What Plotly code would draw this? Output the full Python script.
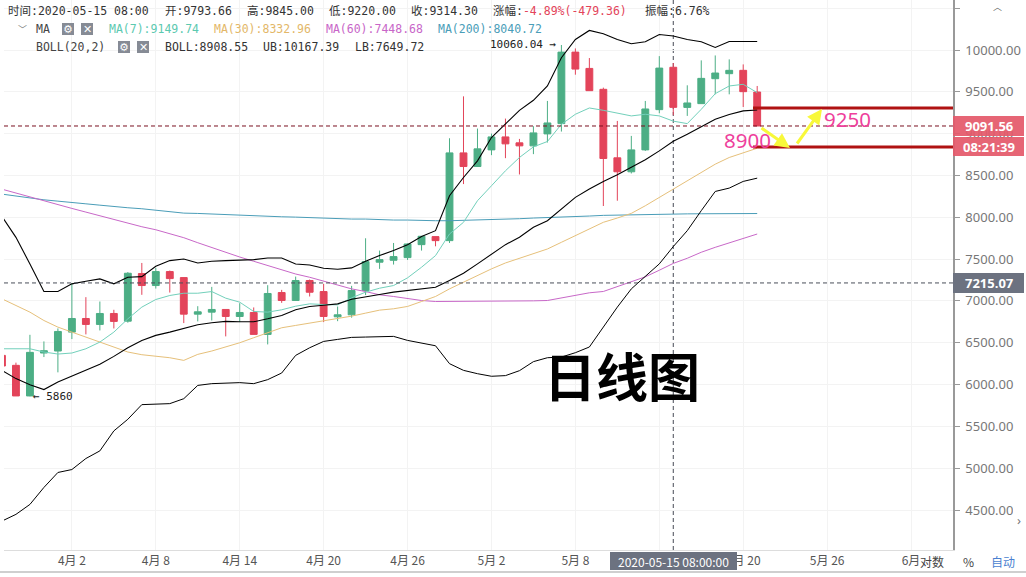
import pandas as pd
import plotly.graph_objects as go

dates = pd.date_range("2020-03-28", "2020-05-21").strftime("%Y-%m-%d").tolist()

opens = [6349,6230,5864,6377,
 6401,6627,6790,6719,6850,6758,7327,7184,7351,7279,6842,6866,6898,6814,6862,6600,7100,7005,7244,7112,6810,6834,7124,7463,7486,7518,7673,7769,7721,8770,
 8607,8806,8961,8890,8854,8997,9120,9975,9780,9530,8711,8544,8806,9287,9793.66,9314,9359,9657,9717,9757,9498]
highs = [6349,6262,6595,6516,
 6671,7212,7045,6993,6894,7345,7454,7395,7363,7279,6937,7168,6898,6973,6922,7188,7132,7291,7256,7204,6933,7180,7749,7602,7693,7689,7773,7769,8945,9446,
 9061,9001,9180,8937,9089,9391,10060.04,10019,9904,9550,9152,8973,9391,9927,9845,9578,9876,9935,9888,9828,9570]
lows = [6222,5864,5860,6329,
 6146,6544,6600,6647,6671,6740,7073,7148,7100,6735,6755,6766,6576,6747,6600,6480,6977,7005,7053,6747,6758,6800,7070,7383,7435,7490,7602,7653,7693,8397,
 8607,8743,8707,8512,8755,8894,9025,9705,9514,8135,8198,8524,8794,9244,9220,9212,9359,9470,9470,9319,9091.56]
closes = [6222,5864,6385,6405,
 6635,6790,6719,6850,6755,7331,7184,7351,7267,6842,6870,6898,6814,6862,6600,7089,7005,7244,7104,6814,6834,7124,7470,7494,7530,7681,7773,7721,8770,8607,
 8818,8961,8878,8854,9009,9128,9975,9772,9514,8703,8544,8806,9295,9784,9314.30,9367,9661,9725,9757,9502,9091.56]

ub = [8010,7760,7442,7112,
 7112,7204,7236,7263,7204,7283,7291,7415,7482,7502,7454,7474,7482,7486,7494,7514,7514,7442,7430,7391,7379,7395,7474,7542,7602,7673,7769,7840,8258,8476,
 8675,8953,9112,9279,9399,9570,9908,10126,10234,10194,10126,10075,10098,10186,10167.39,10126,10098,10031,10102,10102,10102]
boll = [6170,6071,5999,5940,
 6031,6102,6170,6242,6337,6440,6528,6588,6627,6667,6715,6739,6755,6751,6751,6786,6826,6894,6933,6949,6965,7021,7053,7077,7105,7124,7144,7164,7244,7331,
 7443,7562,7673,7761,7880,7959,8099,8238,8337,8429,8508,8596,8687,8794,8908.55,8993,9081,9172,9228,9272,9283]
lb = [4368,4448,4567,4770,
 4949,4984,5116,5207,5446,5585,5760,5764,5772,5831,5990,6011,6019,6023,6011,6059,6138,6349,6440,6516,6540,6564,6568,6572,6576,6528,6496,6464,6250,6170,
 6130,6099,6107,6166,6274,6321,6329,6381,6449,6687,6926,7144,7291,7443,7649.72,7840,8079,8309,8349,8429,8468]
ma7 = [6428,6428,6428,6389,
 6365,6377,6428,6508,6627,6786,6926,7017,7065,7092,7092,7112,7033,6985,6874,6866,6894,6937,6965,6957,6953,7037,7105,7152,7184,7276,7403,7542,7800,7940,
 8198,8377,8556,8715,8842,8906,9112,9232,9307,9279,9244,9212,9232,9212,9149.74,9120,9291,9478,9570,9590,9490]
ma30 = [7025,6945,6866,6766,
 6687,6627,6568,6508,6448,6389,6357,6337,6321,6289,6361,6401,6448,6500,6560,6619,6679,6707,6735,6759,6786,6818,6854,6890,6906,6934,6993,7053,7144,7224,
 7303,7383,7454,7510,7570,7621,7701,7781,7868,7940,7991,8047,8138,8238,8332.96,8437,8536,8635,8715,8775,8826]
ma60 = [8336,8289,8245,8197,
 8145,8106,8062,8018,7970,7931,7887,7851,7807,7756,7696,7637,7581,7525,7474,7422,7370,7322,7283,7235,7191,7144,7112,7073,7053,7025,7005,6993,6993,6997,
 7001,7001,7001,7001,7001,7005,7037,7069,7097,7113,7172,7228,7288,7367,7448.68,7510,7582,7641,7693,7749,7800]
ma200 = [8277,8253,8229,8209,
 8193,8181,8161,8145,8126,8114,8102,8086,8074,8050,8046,8038,8034,8026,8018,8014,8006,8002,7994,7990,7982,7979,7979,7971,7967,7967,7959,7959,7959,7963,
 7967,7967,7979,7983,7991,7995,8003,8007,8015,8023,8027,8030,8033,8036,8040.72,8041,8042,8043,8043,8044,8045]

y_ticks = [4500,5000,5500,6000,6500,7000,7500,8000,8500,9000,9500,10000,10500]
x_ticks = ["2020-04-02","2020-04-08","2020-04-14","2020-04-20","2020-04-26","2020-05-02","2020-05-08","2020-05-14","2020-05-20","2020-05-26","2020-06-01"]
x_labels = ["4月 2","4月 8","4月 14","4月 20","4月 26","5月 2","5月 8","5月 14","5月 20","5月 26","6月"]

last_price = 9091.56
mark_price = 7215.07
level_high = 9307
level_low = 8840
cross_date = "2020-05-15"

GREEN = "#4cae85"; RED = "#e3445a"
L, R, H, W = 4, 953, 550, 1026
def PX(px): return (px - L) / (R - L)
def PY(py): return 1 - py / H

fig = go.Figure()
fig.add_trace(go.Candlestick(x=dates, open=opens, high=highs, low=lows, close=closes,
    increasing=dict(line=dict(color=GREEN, width=1), fillcolor=GREEN),
    decreasing=dict(line=dict(color=RED, width=1), fillcolor=RED),
    whiskerwidth=0, showlegend=False))
for vals, col, w in [(ma200,"#4a9db8",1),(ma60,"#c868c8",1),(ma30,"#e6c07a",1),(ma7,"#72d0bb",1),
                     (ub,"#000000",1.1),(boll,"#000000",1.1),(lb,"#000000",1)]:
    fig.add_trace(go.Scatter(x=dates, y=vals, mode="lines", line=dict(color=col, width=w), showlegend=False, hoverinfo="skip"))

shapes = []
def hline(y, c, dash, w=1, x0=0, x1=1):
    shapes.append(dict(type="line", xref="paper", yref="y", x0=x0, x1=x1, y0=y, y1=y, line=dict(color=c, width=w, dash=dash)))
hline(last_price, "#7a1020", "4px,3px")
hline(mark_price, "#4a4f5a", "4px,3px")
shapes.append(dict(type="line", xref="x", yref="paper", x0=cross_date, x1=cross_date, y0=0, y1=1, layer="below",
                   line=dict(color="#454a55", width=1, dash="4px,3px")))
hline(level_high, "#b01212", "solid", 3, PX(753), 1)
hline(level_low, "#b01212", "solid", 3, PX(753), 1)

def box(x0, y0, x1, y1, color, layer="above", opacity=1):
    shapes.append(dict(type="rect", xref="paper", yref="paper", x0=PX(x0), x1=PX(x1), y0=PY(y0), y1=PY(y1),
                       fillcolor=color, line=dict(width=0), layer=layer, opacity=opacity))
box(953, 116, 1024, 136, "#e4596b", opacity=.93)
box(953, 137, 1024, 156, "#e4596b", opacity=.93)
box(953, 273, 1024, 293, "#6c7280")
box(610, 552, 737, 570, "#6c7280")
for x0, x1, yy in [(62,74,29),(81,93,29),(118,130,47),(137,149,47)]:
    box(x0, yy-6, x1, yy+6, "#868b95")
box(983, 0, 1012, 12, "#ffffff")
box(1013, 505, 1026, 535, "#ffffff")
shapes.append(dict(type="line", xref="paper", yref="paper", x0=PX(0), x1=PX(1026), y0=PY(572), y1=PY(572), line=dict(color="#cfcfcf", width=2)))

ann = []
MONO = "DejaVu Sans Mono, Noto Sans CJK SC"
UI = "Noto Sans CJK SC, Noto Sans"
def text(x, y, s, color="#333", size=11.5, font=MONO, anchor="left"):
    ann.append(dict(xref="paper", yref="paper", x=PX(x), y=PY(y), text=s, showarrow=False, xanchor=anchor, yanchor="middle",
                    font=dict(color=color, size=size, family=font), borderpad=0, borderwidth=0))

text(8, 11, "时间:2020-05-15 08:00")
text(165, 11, "开:9793.66")
text(247, 11, "高:9845.00")
text(329, 11, "低:9220.00")
text(411, 11, "收:9314.30")
text(493, 11, "涨幅:<span style='color:#e3445a'>-4.89%(-479.36)</span>")
text(645, 11, "振幅:6.76%")
text(22, 29, "﹀", "#777", 9, UI, "center")
text(36, 29, "MA", "#444")
text(109, 29, "MA(7):9149.74", "#5cc9b0")
text(214, 29, "MA(30):8332.96", "#e3b768")
text(326, 29, "MA(60):7448.68", "#c866c8")
text(438, 29, "MA(200):8040.72", "#4a9db8")
text(36, 47, "BOLL(20,2)", "#444")
text(165, 47, "BOLL:8908.55")
text(263, 47, "UB:10167.39")
text(355, 47, "LB:7649.72")
for xc, yy, g in [(68,29,"⚙"),(87,29,"✕"),(124,47,"⚙"),(143,47,"✕")]:
    text(xc, yy, g, "#ffffff", 11, "DejaVu Sans", "center")
text(490, 45, "10060.04 →", "#222", 11)
text(33, 396, "← 5860", "#222", 11)
text(747, 140, "8900", "#ee3f9c", 20.5, "Noto Sans", "center")
text(847, 119, "9250", "#ee3f9c", 20.5, "Noto Sans", "center")
text(622, 374, "<b>日线图</b>", "#000000", 52, "Noto Sans CJK SC", "center")
text(989, 126, "<b>9091.56</b>", "#ffffff", 13, "Noto Sans", "center")
text(989, 147, "<b>08:21:39</b>", "#ffffff", 13, "Noto Sans", "center")
text(989, 283, "<b>7215.07</b>", "#ffffff", 13, "Noto Sans", "center")
text(673, 561, "2020-05-15 08:00:00", "#ffffff", 12, UI, "center")
text(997, 7, "︿", "#666", 9, UI, "center")
text(1019, 520, "›", "#777", 13, "Noto Sans", "center")
text(932, 561, "对数", "#444", 12, UI, "center")
text(968, 561, "%", "#444", 12, UI, "center")
text(1003, 561, "自动", "#4a7fd0", 12, UI, "center")

def arrow(x0, y0, x1, y1):
    ann.append(dict(xref="paper", yref="paper", axref="pixel", ayref="pixel", x=PX(x1), y=PY(y1), ax=x0-x1, ay=y0-y1,
                    showarrow=True, arrowhead=2, arrowsize=1, arrowwidth=3, arrowcolor="#f8f83a", text=""))
arrow(760, 127, 790, 148)
arrow(796, 145, 822, 109)

fig.update_layout(width=W, height=577, margin=dict(l=L, r=W-R, t=0, b=577-H),
    paper_bgcolor="#ffffff", plot_bgcolor="#ffffff", showlegend=False, shapes=shapes, annotations=ann,
    dragmode=False, hovermode=False)
fig.update_xaxes(range=["2020-03-28 03:30", "2020-06-04 00:00"], tickvals=x_ticks, ticktext=x_labels, rangeslider_visible=False,
    showgrid=True, gridcolor="#f3f3f3", gridwidth=1, showline=True, linecolor="#dddddd", linewidth=1, ticks="",
    tickfont=dict(size=12, color="#555", family=UI), zeroline=False, mirror=False)
fig.update_yaxes(range=[4022, 10598], side="right", tickvals=y_ticks, tickformat=".2f", showgrid=True, gridcolor="#f3f3f3",
    showline=True, linecolor="#999999", linewidth=1.5, ticks="outside", ticklen=5, tickcolor="#999999",
    tickfont=dict(size=13, color="#777", family="Noto Sans"), zeroline=False, ticklabelstandoff=3)

fig.write_html("out.html", config=dict(displayModeBar=False), post_script="document.body.style.margin='0';document.body.style.overflow='hidden';")
